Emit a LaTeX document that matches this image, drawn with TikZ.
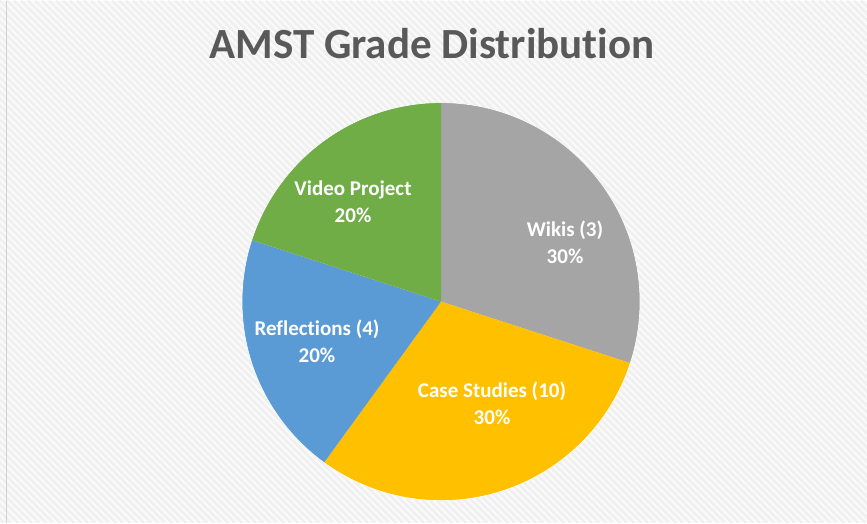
\documentclass[tikz,border=0pt]{standalone}
\usepackage{fontspec}
\setmainfont[Ligatures=NoCommon]{Carlito}
\usepackage{tikz}
\usetikzlibrary{calc}

\definecolor{wikigray}{HTML}{A5A5A5}
\definecolor{caseyellow}{HTML}{FFC000}
\definecolor{reflblue}{HTML}{5B9BD5}
\definecolor{videogreen}{HTML}{70AD47}
\definecolor{titlegray}{HTML}{595959}
\definecolor{paper}{HTML}{FAFAFA}
\definecolor{stripe}{HTML}{F0F0F0}

\tikzset{
  slicelabel/.style={text=white,font=\fontsize{21}{27}\selectfont\bfseries,align=center},
  charttitle/.style={text=titlegray,font=\fontsize{43}{50}\selectfont\bfseries,anchor=base}
}

\begin{document}
\begin{tikzpicture}[x=1pt,y=1pt]
  % striped backdrop
  \fill[paper] (0,0) rectangle (867,522);
  \begin{scope}
    \clip (0,0) rectangle (867,522);
    \foreach \i in {-560,-553,...,880}
      \draw[stripe,line width=2.6pt] (\i,522) -- ++(522,-522);
  \end{scope}
  \draw[black!18,line width=1.2pt] (6.5,0) -- (6.5,522);
  \useasboundingbox (0,0) rectangle (867,522);

  \node[charttitle] (title) at (432,464) {AMST Grade Distribution};

  % the pie, clockwise from the top
  \coordinate (c) at (441,221);
  \def\rad{199}
  \fill[wikigray]   (c) -- ++(90:\rad)  arc[start angle=90,  end angle=-18,  radius=\rad] -- cycle;
  \fill[caseyellow] (c) -- ++(-18:\rad) arc[start angle=-18, end angle=-126, radius=\rad] -- cycle;
  \fill[reflblue]   (c) -- ++(-126:\rad) arc[start angle=-126, end angle=-198, radius=\rad] -- cycle;
  \fill[videogreen] (c) -- ++(162:\rad) arc[start angle=162, end angle=90,   radius=\rad] -- cycle;
  \draw[white,line width=0.6pt] (c) circle (\rad);

  \node[slicelabel] (wikis) at (565,280) {Wikis (3)\\30\%};
  \node[slicelabel] (cases) at (492,119) {Case Studies (10)\\30\%};
  \node[slicelabel] (refl)  at (317,181) {Reflections (4)\\20\%};
  \node[slicelabel] (video) at (353,321) {Video Project\\20\%};
\end{tikzpicture}
\end{document}
